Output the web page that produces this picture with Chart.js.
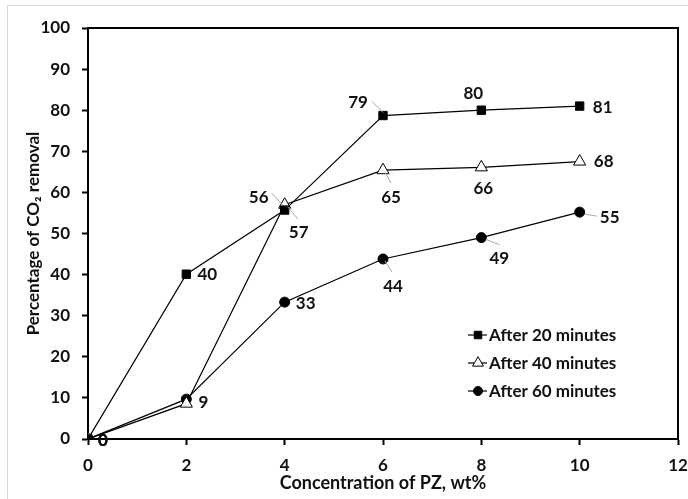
<!DOCTYPE html>
<html>
<head>
<meta charset="utf-8">
<script src="https://cdn.jsdelivr.net/npm/chart.js@4"></script>
<style>
html,body{margin:0;padding:0;background:#fff;}
#wrap{width:688px;height:499px;position:relative;}
</style>
</head>
<body>
<div id="wrap"><canvas id="c" width="688" height="499"></canvas></div>
<script>
// ---- data ----
const concentrations = [0, 2, 4, 6, 8, 10];
const after20 = [0, 40.1, 55.7, 78.7, 80.0, 81.0];
const after40 = [0, 8.6, 57.0, 65.4, 66.1, 67.5];
const after60 = [0, 9.7, 33.3, 43.8, 49.0, 55.2];
const labels20 = ['0', '40', '56', '79', '80', '81'];
const labels40 = ['0', '9', '57', '65', '66', '68'];
const labels60 = ['0', '', '33', '44', '49', '55'];
const seriesNames = ['After 20 minutes', 'After 40 minutes', 'After 60 minutes'];
const xTicks = [0, 2, 4, 6, 8, 10, 12];
const yTicks = [0, 10, 20, 30, 40, 50, 60, 70, 80, 90, 100];

// ---- label placement (styling: pixel offsets of text centre, optional leader) ----
const labelStyle = [
  [{dx:15,dy:2},{dx:21,dy:0},{dx:-26,dy:-13,lead:[[-13,-17],[-2,-5]]},{dx:-25,dy:-13,lead:[[-11,-14],[0,-3]]},{dx:-8,dy:-17},{dx:23,dy:1}],
  [{dx:15,dy:2},{dx:17,dy:-1},{dx:14,dy:28,lead:[[3,2],[13,14]]},{dx:8,dy:27,lead:[[2,2],[8,13]]},{dx:2,dy:21},{dx:24,dy:0}],
  [{dx:15,dy:2},null,{dx:21,dy:1},{dx:10,dy:28,lead:[[2,2],[9,13]]},{dx:18,dy:21,lead:[[5,2],[18,7]]},{dx:30,dy:5,lead:[[5,2],[17,4]]}]
];

const FONT = 'Lato, "Open Sans", sans-serif';

function mk(vals){ return vals.map((v,i)=>({x:concentrations[i], y:v})); }

function markerPath(ctx, style, x, y, r){
  ctx.beginPath();
  if (style === 'circle') { ctx.arc(x, y, r, 0, Math.PI*2); }
  else if (style === 'rect') { const s = Math.SQRT1_2 * r; ctx.rect(x - s, y - s, 2*s, 2*s); }
  else {
    for (let k=0;k<3;k++){
      const ang = k*2*Math.PI/3;
      const xx = x+Math.sin(ang)*r, yy = y-Math.cos(ang)*r;
      if (k) ctx.lineTo(xx,yy); else ctx.moveTo(xx,yy);
    }
    ctx.closePath();
  }
}

const labelPlugin = {
  id: 'labelsEtc',
  beforeDraw(chart){
    const ctx = chart.ctx;
    ctx.save();
    ctx.strokeStyle = '#d9d9d9';
    ctx.lineWidth = 1;
    ctx.beginPath();
    ctx.moveTo(7.5, 499); ctx.lineTo(7.5, 5.5); ctx.lineTo(688, 5.5);
    ctx.stroke();
    ctx.restore();
  },
  afterDatasetsDraw(chart){
    const ctx = chart.ctx;
    const a = chart.chartArea;
    ctx.save();
    // top & right frame
    ctx.strokeStyle = '#000';
    ctx.lineWidth = 2;
    ctx.beginPath();
    ctx.moveTo(a.left, a.top); ctx.lineTo(a.right, a.top); ctx.lineTo(a.right, a.bottom);
    ctx.stroke();
    // data labels
    const allLabels = [labels20, labels40, labels60];
    ctx.font = 'bold 17px ' + FONT;
    ctx.textAlign = 'center';
    ctx.textBaseline = 'middle';
    const xs = chart.scales.x, ys = chart.scales.y;
    chart.data.datasets.forEach((ds, di) => {
      ds.data.forEach((p, pi) => {
        const st = labelStyle[di][pi];
        const txt = allLabels[di][pi];
        if (!st || !txt) return;
        const px = xs.getPixelForValue(p.x), py = ys.getPixelForValue(p.y);
        if (st.lead) {
          ctx.strokeStyle = '#a6a6a6';
          ctx.lineWidth = 1;
          ctx.beginPath();
          ctx.moveTo(px + st.lead[0][0], py + st.lead[0][1]);
          ctx.lineTo(px + st.lead[1][0], py + st.lead[1][1]);
          ctx.stroke();
        }
        ctx.fillStyle = '#111';
        ctx.fillText(txt, px + st.dx, py + st.dy);
      });
    });
    // legend
    const lx = a.right - 210, ly = a.bottom - 104;
    ctx.font = 'bold 17px ' + FONT;
    ctx.textAlign = 'left';
    chart.data.datasets.forEach((ds, i) => {
      const y = ly + i * 28;
      ctx.strokeStyle = '#000';
      ctx.lineWidth = 1.2;
      ctx.beginPath();
      ctx.moveTo(lx, y); ctx.lineTo(lx + 19, y);
      ctx.stroke();
      ctx.fillStyle = ds.pointBackgroundColor;
      ctx.lineWidth = 1;
      markerPath(ctx, ds.pointStyle, lx + 10, y, ds.pointRadius * 0.9);
      ctx.fill(); ctx.stroke();
      ctx.fillStyle = '#111';
      ctx.fillText(ds.label, lx + 21, y + 1);
    });
    ctx.restore();
  }
};

const common = { borderColor:'#000', borderWidth:1.2, pointBorderColor:'#000', pointBorderWidth:1, showLine:true, tension:0 };

new Chart(document.getElementById('c'), {
  type: 'scatter',
  data: {
    datasets: [
      Object.assign({label: seriesNames[0], data: mk(after20), pointStyle:'rect', pointRadius:5.9, pointBackgroundColor:'#000'}, common),
      Object.assign({label: seriesNames[1], data: mk(after40), pointStyle:'triangle', pointRadius:7, pointBackgroundColor:'#fff'}, common),
      Object.assign({label: seriesNames[2], data: mk(after60), pointStyle:'circle', pointRadius:5, pointBackgroundColor:'#000'}, common)
    ]
  },
  options: {
    responsive: false,
    animation: false,
    layout: { padding: { top: 28, right: 10, left: 0, bottom: 0 } },
    plugins: { legend: { display: false }, tooltip: { enabled: false } },
    scales: {
      x: {
        type: 'linear', min: 0, max: 12,
        afterBuildTicks: s => { s.ticks = xTicks.map(v => ({value: v})); },
        afterFit: s => { s.height = 60; s.paddingLeft = 0; s.paddingRight = 0; },
        grid: { drawOnChartArea: false, drawTicks: true, tickLength: 6, tickColor: '#000', tickWidth: 2 },
        border: { display: true, color: '#000', width: 2 },
        ticks: { color: '#111', padding: 10, font: { family: FONT, size: 17, weight: 'bold' }, maxRotation: 0 },
        title: { display: true, text: 'Concentration of PZ, wt%', color: '#111', font: { family: FONT, size: 18, weight: 'bold' }, padding: { top: 0, bottom: 5 } }
      },
      y: {
        type: 'linear', min: 0, max: 100,
        afterBuildTicks: s => { s.ticks = yTicks.map(v => ({value: v})); },
        afterFit: s => { s.width = 88; s.paddingTop = 0; s.paddingBottom = 0; },
        grid: { drawOnChartArea: false, drawTicks: true, tickLength: 6, tickColor: '#000', tickWidth: 2 },
        border: { display: true, color: '#000', width: 2 },
        ticks: { color: '#111', padding: 12, font: { family: FONT, size: 17, weight: 'bold' } },
        title: { display: true, text: 'Percentage of CO₂ removal', color: '#111', font: { family: FONT, size: 17, weight: 'bold' }, padding: { top: 23, bottom: 0 } }
      }
    }
  },
  plugins: [labelPlugin]
});
</script>
</body>
</html>
